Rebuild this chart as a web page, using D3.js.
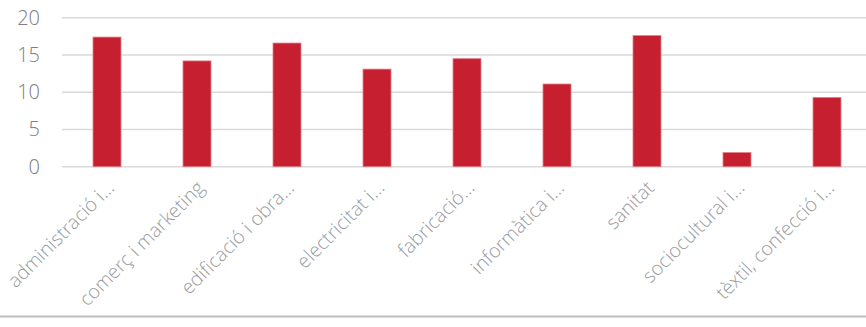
<!DOCTYPE html>
<html><head><meta charset="utf-8">
<script src="https://cdn.jsdelivr.net/npm/d3@7"></script>
<style>body{margin:0;background:#fff}svg{display:block}text{font-family:"Open Sans Light","Open Sans",sans-serif;font-weight:300}</style>
</head><body>
<script>
const categories = ["administració i…","comerç i marketing","edificació i obra…","electricitat i…","fabricació…","informàtica i…","sanitat","sociocultural i…","tèxtil, confecció i…"];
const values = [17.4,14.2,16.6,13.1,14.5,11.1,17.6,1.9,9.3];
const yTicks = [0,5,10,15,20];

const W=866,H=327;
const svg=d3.select("body").append("svg").attr("width",W).attr("height",H);
const x=d3.scaleBand().domain(categories).range([62,872]).padding(0);
const y=d3.scaleLinear().domain([0,20]).range([166.7,17.7]);
const barW=28;

svg.append("g").selectAll("line").data(yTicks).join("line")
  .attr("x1",62).attr("x2",W).attr("y1",d=>y(d)).attr("y2",d=>y(d))
  .attr("stroke","#d9d9d9").attr("stroke-width",1.6);
svg.append("g").selectAll("text").data(yTicks).join("text")
  .attr("x",40).attr("y",d=>y(d)).attr("dy","0.35em").attr("text-anchor","end")
  .attr("font-size",20).attr("fill","#808080").text(d=>d);

svg.append("g").selectAll("rect").data(values).join("rect")
  .attr("x",(d,i)=>x(categories[i])+x.bandwidth()/2-barW/2).attr("width",barW)
  .attr("y",d=>y(d)).attr("height",d=>y(0)-y(d))
  .attr("fill","#c62030").attr("stroke","#e27f89").attr("stroke-width",0.8);

svg.append("g").selectAll("text").data(categories).join("text")
  .attr("transform",d=>`translate(${x(d)+x.bandwidth()/2+8.5},${189}) rotate(-45)`)
  .attr("text-anchor","end").attr("font-size",19.5).attr("fill","#9c9c9c").text(d=>d);

svg.append("line").attr("x1",0).attr("x2",W).attr("y1",316.5).attr("y2",316.5)
  .attr("stroke","#bdbdbd").attr("stroke-width",2);
</script>
</body></html>
